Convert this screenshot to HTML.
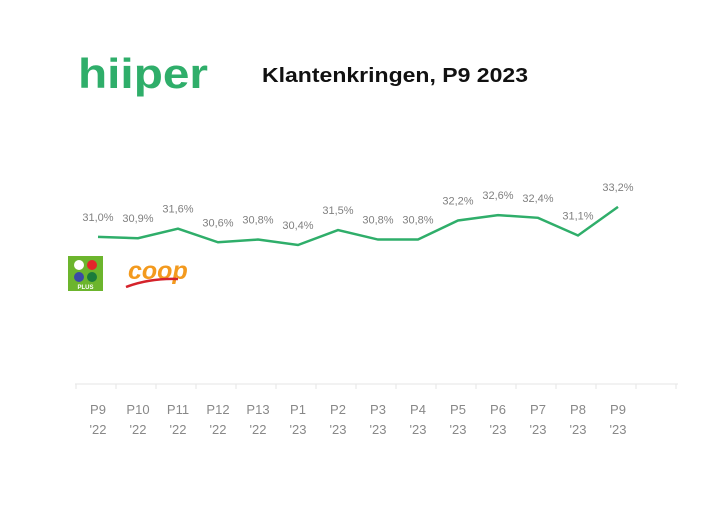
<!DOCTYPE html>
<html><head><meta charset="utf-8"><style>
body{margin:0;background:#fff;width:728px;height:509px;overflow:hidden;font-family:"Liberation Sans",sans-serif}
</style></head><body>
<svg width="728" height="509">
<text x="78" y="88" font-size="42" font-weight="bold" fill="#2fae6a" textLength="130" lengthAdjust="spacingAndGlyphs">hiiper</text>
<text x="262" y="82" font-size="20" font-weight="bold" fill="#111" textLength="266" lengthAdjust="spacingAndGlyphs">Klantenkringen,  P9 2023</text>
<g>
<rect x="68" y="256" width="35" height="35" fill="#6cb52d"/>
<circle cx="79" cy="265" r="5" fill="#fff"/><circle cx="92" cy="265" r="5" fill="#e3262a"/>
<circle cx="79" cy="277" r="5" fill="#3b4aa5"/><circle cx="92" cy="277" r="5" fill="#1a7c3b"/>
<text x="85.5" y="289" font-size="6" fill="#fff" text-anchor="middle" font-weight="bold">PLUS</text>
</g>
<g>
<text x="128" y="279" font-size="25" font-weight="bold" font-style="italic" fill="#f39a1e">coop</text>
<path d="M126 287 Q150 278 178 279" stroke="#d5232b" stroke-width="2.5" fill="none"/>
</g>
<line x1="75" y1="384" x2="678" y2="384" stroke="#e6e6e6"/>
<g id="ticks"></g>
<g id="labels"></g>
<path id="line" fill="none" stroke="#2fae6a" stroke-width="2.5"/>
<g id="vals"></g>
</svg>
<script>
const periods=["P9","P10","P11","P12","P13","P1","P2","P3","P4","P5","P6","P7","P8","P9"];
const years=["'22","'22","'22","'22","'22","'23","'23","'23","'23","'23","'23","'23","'23","'23"];
const values=[31.0,30.9,31.6,30.6,30.8,30.4,31.5,30.8,30.8,32.2,32.6,32.4,31.1,33.2];
const ns="http://www.w3.org/2000/svg";
const xs=i=>98+i*40;
const ys=v=>245-(v-30.4)*13.6;
let d="";
const vals=document.getElementById('vals'),labels=document.getElementById('labels'),ticks=document.getElementById('ticks');
for(let i=0;i<=15;i++){
 const t=document.createElementNS(ns,'line');
 t.setAttribute('x1',76+i*40);t.setAttribute('x2',76+i*40);t.setAttribute('y1',384);t.setAttribute('y2',389);t.setAttribute('stroke','#e6e6e6');
 
 
 ticks.appendChild(t);
}
values.forEach((v,i)=>{
 const x=xs(i),y=ys(v);
 d+=(i?"L":"M")+x+" "+y;
 const t=document.createElementNS(ns,'text');
 t.setAttribute('x',x);t.setAttribute('y',y-16);t.setAttribute('text-anchor','middle');t.setAttribute('font-size','11');t.setAttribute('fill','#808080');
 t.textContent=v.toFixed(1).replace('.',',')+'%';
 
 
 vals.appendChild(t);
 const l=document.createElementNS(ns,'text');
 l.setAttribute('x',x);l.setAttribute('text-anchor','middle');l.setAttribute('font-size','13');l.setAttribute('fill','#888');
 l.innerHTML='<tspan x="'+x+'" y="414">'+periods[i]+'</tspan><tspan x="'+x+'" y="434">'+years[i]+'</tspan>';
 
 
 labels.appendChild(l);
});
document.getElementById('line').setAttribute('d',d);
</script>
</body></html>
